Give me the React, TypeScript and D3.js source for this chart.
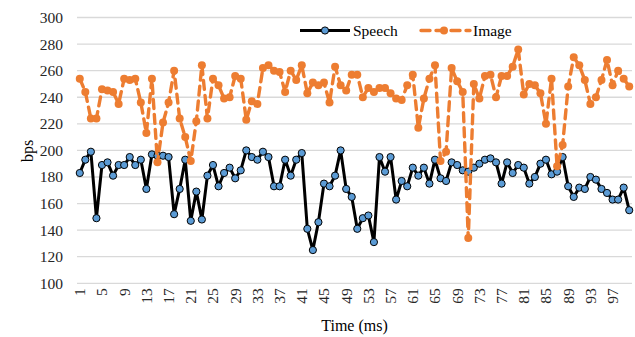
import React from "react";
import * as d3 from "d3";

const categories: number[] = Array.from({ length: 100 }, (_, i) => i + 1);
const xTickLabels: number[] = categories.filter((c) => (c - 1) % 4 === 0);
const yTicks: number[] = [100, 120, 140, 160, 180, 200, 220, 240, 260, 280, 300];

const speech: number[] = [
  183, 193, 199, 149, 189, 191, 181, 189, 189, 195,
  189, 193, 171, 197, 196, 196, 195, 152, 171, 193,
  147, 169, 148, 181, 189, 173, 183, 187, 179, 185,
  200, 195, 193, 199, 195, 173, 173, 193, 181, 193,
  198, 141, 125, 146, 175, 173, 181, 200, 171, 165,
  141, 149, 151, 131, 195, 184, 195, 163, 177, 173,
  187, 181, 187, 175, 193, 179, 177, 191, 189, 185,
  184, 187, 190, 193, 194, 191, 175, 191, 183, 189,
  187, 175, 180, 190, 193, 182, 184, 195, 173, 165,
  172, 171, 180, 178, 171, 168, 163, 163, 172, 155,
];

const image: number[] = [
  254, 244, 224, 224, 246, 245, 244, 235, 254, 253,
  254, 236, 213, 254, 191, 221, 236, 260, 224, 210,
  192, 222, 264, 224, 254, 249, 239, 240, 256, 254,
  223, 237, 235, 262, 264, 260, 259, 244, 260, 253,
  264, 243, 251, 249, 251, 236, 263, 249, 245, 257,
  257, 240, 247, 244, 247, 247, 243, 239, 238, 249,
  257, 217, 239, 254, 264, 192, 199, 262, 252, 244,
  134, 250, 239, 256, 257, 240, 256, 256, 263, 276,
  242, 250, 249, 243, 220, 254, 188, 204, 248, 270,
  264, 253, 235, 240, 253, 268, 249, 260, 254, 248,
];

const seriesNames = ["Speech", "Image"];

const W = 635;
const H = 337;
const left = 77;
const right = 632;
const top = 17.5;
const bottom = 283.3;
const FONT = "'Liberation Serif', 'Times New Roman', serif";
const ORANGE = "#ed7d31";
const BLUE = "#5b9bd5";

export default function App() {
  const x = d3.scaleBand<number>().domain(categories).range([left, right]);
  const bw = x.bandwidth();
  const cx = (c: number) => (x(c) as number) + bw / 2;
  const y = d3.scaleLinear().domain([100, 300]).range([bottom, top]);

  const line = d3
    .line<number>()
    .x((_, i) => cx(categories[i]))
    .y((d) => y(d));

  return (
    <svg
      width={W}
      height={H}
      style={{ position: "absolute", left: 0, top: 0, background: "#fff" }}
      fontFamily={FONT}
    >
      <rect x={0} y={0} width={W} height={H} fill="#fff" />
      {yTicks.map((t) => (
        <g key={t}>
          <line x1={left} x2={right} y1={y(t)} y2={y(t)} stroke="#d9d9d9" strokeWidth={1.3} />
          <text x={63} y={y(t)} textAnchor="end" dominantBaseline="central" fontSize={15.5} fill="#262626">
            {t}
          </text>
        </g>
      ))}
      {xTickLabels.map((c) => (
        <text
          key={c}
          transform={`translate(${cx(c)},${bottom + 5}) rotate(-90)`}
          textAnchor="end"
          dominantBaseline="central"
          fontSize={15.5}
          fill="#262626"
        >
          {c}
        </text>
      ))}
      <text x={(left + right) / 2} y={331} textAnchor="middle" fontSize={16} fill="#000">
        Time (ms)
      </text>
      <text transform={`translate(27,151) rotate(-90)`} textAnchor="middle" dominantBaseline="central" fontSize={16} fill="#000">
        bps
      </text>

      {/* Speech */}
      <path d={line(speech) || ""} fill="none" stroke="#000" strokeWidth={3} strokeLinejoin="round" />
      {speech.map((v, i) => (
        <circle key={"s" + i} cx={cx(categories[i])} cy={y(v)} r={3.6} fill={BLUE} stroke="#000" strokeWidth={1} />
      ))}

      {/* Image */}
      <path
        d={line(image) || ""}
        fill="none"
        stroke={ORANGE}
        strokeWidth={3.4}
        strokeDasharray="9,6"
        strokeLinecap="round"
        strokeLinejoin="round"
      />
      {image.map((v, i) => (
        <circle key={"i" + i} cx={cx(categories[i])} cy={y(v)} r={4} fill={ORANGE} />
      ))}

      {/* Legend */}
      <g>
        <line x1={300} x2={350} y1={30.5} y2={30.5} stroke="#000" strokeWidth={3} />
        <circle cx={325} cy={30.5} r={3.6} fill={BLUE} stroke="#000" strokeWidth={1} />
        <text x={353} y={30.5} dominantBaseline="central" fontSize={15.5} fill="#000">
          {seriesNames[0]}
        </text>
        <line x1={421} x2={470} y1={30.5} y2={30.5} stroke={ORANGE} strokeWidth={3.4} strokeDasharray="9,6" strokeLinecap="round" />
        <circle cx={444} cy={30.5} r={4} fill={ORANGE} />
        <text x={473} y={30.5} dominantBaseline="central" fontSize={15.5} fill="#000">
          {seriesNames[1]}
        </text>
      </g>
    </svg>
  );
}
